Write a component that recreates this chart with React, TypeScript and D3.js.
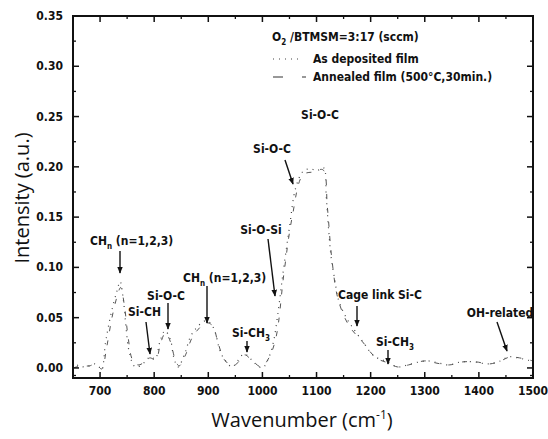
import React from 'react';
import * as d3 from 'd3';

// wavenumber (cm-1) / intensity
const depositedX = [650, 660, 670, 680, 690, 698, 703, 710, 715, 722, 731, 737, 743, 748, 753, 759, 765, 774, 783, 793, 802, 811, 820, 830, 836, 844, 857, 867, 880, 895, 905, 913, 920, 928, 944, 954, 966, 975, 985, 1000, 1010, 1020, 1030, 1037, 1050, 1062, 1076, 1090, 1100, 1113, 1118, 1122, 1127, 1133, 1141, 1155, 1167, 1187, 1206, 1231, 1250, 1268, 1290, 1306, 1325, 1343, 1367, 1391, 1417, 1440, 1454, 1472, 1496];
const depositedY = [-0.002, 0.003, 0.001, 0.002, 0.004, 0.001, -0.002, 0.025, 0.040, 0.058, 0.076, 0.086, 0.068, 0.040, 0.018, 0.006, 0.001, 0.002, 0.006, 0.011, 0.009, 0.027, 0.037, 0.028, 0.011, 0.001, 0.015, 0.031, 0.041, 0.047, 0.044, 0.035, 0.020, 0.010, 0.001, 0.007, 0.014, 0.011, 0.005, 0.000, 0.008, 0.025, 0.060, 0.090, 0.140, 0.180, 0.196, 0.198, 0.196, 0.199, 0.170, 0.140, 0.110, 0.090, 0.067, 0.050, 0.040, 0.025, 0.012, 0.006, 0.001, 0.003, 0.006, 0.007, 0.005, 0.003, 0.006, 0.006, 0.004, 0.007, 0.011, 0.010, 0.007];

const annealedX = [650, 665, 680, 692, 703, 712, 722, 732, 738, 745, 752, 760, 770, 780, 792, 803, 812, 821, 830, 838, 846, 858, 870, 884, 896, 908, 918, 930, 945, 956, 967, 980, 998, 1012, 1025, 1040, 1055, 1075, 1095, 1112, 1120, 1128, 1140, 1160, 1185, 1210, 1232, 1250, 1270, 1300, 1320, 1345, 1370, 1395, 1420, 1440, 1458, 1475, 1500];
const annealedY = [0.000, 0.002, 0.002, 0.004, -0.001, 0.020, 0.050, 0.072, 0.080, 0.062, 0.030, 0.008, 0.003, 0.005, 0.010, 0.008, 0.025, 0.035, 0.026, 0.010, 0.002, 0.013, 0.030, 0.040, 0.045, 0.042, 0.025, 0.008, 0.002, 0.006, 0.013, 0.008, 0.001, 0.010, 0.030, 0.095, 0.150, 0.192, 0.195, 0.197, 0.160, 0.110, 0.068, 0.042, 0.026, 0.010, 0.005, 0.001, 0.003, 0.007, 0.005, 0.003, 0.006, 0.006, 0.004, 0.007, 0.011, 0.010, 0.007];

const xTicks = [700, 800, 900, 1000, 1100, 1200, 1300, 1400, 1500];
const xMinor = [650, 750, 850, 950, 1050, 1150, 1250, 1350, 1450];
const yTicks = [0, 0.05, 0.1, 0.15, 0.2, 0.25, 0.3, 0.35];
const yMinor = [-0.0075, 0.025, 0.075, 0.125, 0.175, 0.225, 0.275, 0.325];

const narrow = "'Liberation Sans Narrow', 'DejaVu Sans Condensed', 'Arial Narrow', sans-serif";
const sans = "'Open Sans', 'Noto Sans', sans-serif";

const App = () => {
  const left = 73, right = 533, top = 16, bottom = 378;
  const x = d3.scaleLinear().domain([650, 1500]).range([left, right]);
  const y = d3.scaleLinear().domain([-0.01, 0.35]).range([bottom, top]);

  const curve = d3.line<[number, number]>()
    .x(d => x(d[0])).y(d => y(d[1]))
    .curve(d3.curveCatmullRom.alpha(0.5));
  const depPath = curve(depositedX.map((v, i) => [v, depositedY[i]]));
  const annPath = curve(annealedX.map((v, i) => [v, annealedY[i]]));

  const lbl = { fontFamily: narrow, fontWeight: 700, fontSize: 12, fill: '#111' } as const;

  const arrow = (x1: number, y1: number, x2: number, y2: number) => (
    <line x1={x1} y1={y1} x2={x2} y2={y2} stroke="#111" strokeWidth={1.4} markerEnd="url(#ah)" />
  );

  return (
    <svg width={548} height={439} style={{ position: 'absolute', left: 0, top: 0, background: '#fff' }}>
      <defs>
        <marker id="ah" viewBox="0 0 10 10" refX="9" refY="5" markerWidth="5" markerHeight="6" orient="auto">
          <path d="M0,1 L10,5 L0,9 z" fill="#111" />
        </marker>
      </defs>

      <path d={depPath || ''} fill="none" stroke="#444" strokeWidth={1.2} strokeDasharray="1 5" />
      <path d={annPath || ''} fill="none" stroke="#555" strokeWidth={1} strokeDasharray="5 9" />

      <rect x={left} y={top} width={right - left} height={bottom - top} fill="none" stroke="#111" strokeWidth={2} />

      {xTicks.map(t => (
        <g key={'x' + t}>
          <line x1={x(t)} x2={x(t)} y1={bottom} y2={bottom - 6} stroke="#111" strokeWidth={1.5} />
          <line x1={x(t)} x2={x(t)} y1={top} y2={top + 6} stroke="#111" strokeWidth={1.5} />
          <text x={x(t)} y={395} textAnchor="middle" style={lbl}>{t}</text>
        </g>
      ))}
      {xMinor.map(t => (
        <g key={'xm' + t}>
          <line x1={x(t)} x2={x(t)} y1={bottom} y2={bottom - 3} stroke="#111" strokeWidth={1.3} />
          <line x1={x(t)} x2={x(t)} y1={top} y2={top + 3} stroke="#111" strokeWidth={1.3} />
        </g>
      ))}
      {yTicks.map(t => (
        <g key={'y' + t}>
          <line x1={left} x2={left + 6} y1={y(t)} y2={y(t)} stroke="#111" strokeWidth={1.5} />
          <line x1={right} x2={right - 6} y1={y(t)} y2={y(t)} stroke="#111" strokeWidth={1.5} />
          <text x={63} y={y(t) + 4} textAnchor="end" style={lbl}>{d3.format('.2f')(t)}</text>
        </g>
      ))}
      {yMinor.map(t => (
        <g key={'ym' + t}>
          <line x1={left} x2={left + 3} y1={y(t)} y2={y(t)} stroke="#111" strokeWidth={1.3} />
          <line x1={right} x2={right - 3} y1={y(t)} y2={y(t)} stroke="#111" strokeWidth={1.3} />
        </g>
      ))}

      <text x={302} y={427} textAnchor="middle" style={{ fontFamily: sans, fontSize: 20, fill: '#111' }}>
        Wavenumber (cm<tspan dy={-8} fontSize={12}>-1</tspan><tspan dy={8}>)</tspan>
      </text>
      <text transform="translate(29,198) rotate(-90)" textAnchor="middle" style={{ fontFamily: sans, fontSize: 20, fill: '#111' }}>
        Intensity (a.u.)
      </text>

      {/* legend */}
      <text x={272} y={41} style={lbl}>O<tspan dy={4} fontSize={8}>2</tspan><tspan dy={-4}> /BTMSM=3:17 (sccm)</tspan></text>
      <line x1={273} x2={303} y1={59} y2={59} stroke="#444" strokeWidth={1.2} strokeDasharray="1 5" />
      <text x={313} y={63} style={lbl}>As deposited film</text>
      <line x1={273} x2={306} y1={77} y2={77} stroke="#333" strokeWidth={1.2} strokeDasharray="10 19" />
      <text x={313} y={81} style={lbl}>Annealed film (500°C,30min.)</text>

      {/* annotations */}
      <text x={320} y={119} textAnchor="middle" style={lbl}>Si-O-C</text>
      <text x={272} y={153} textAnchor="middle" style={lbl}>Si-O-C</text>
      {arrow(285, 160, 293, 184)}
      <text x={261} y={234} textAnchor="middle" style={lbl}>Si-O-Si</text>
      {arrow(268, 239, 275, 296)}
      <text x={380} y={299} textAnchor="middle" style={lbl}>Cage link Si-C</text>
      {arrow(357, 306, 357, 326)}
      <text x={376} y={346} style={lbl}>Si-CH<tspan dy={4} fontSize={8}>3</tspan></text>
      {arrow(388, 350, 388, 364)}
      <text x={500} y={317} textAnchor="middle" style={lbl}>OH-related</text>
      {arrow(497, 322, 507, 351)}

      <text x={90} y={245} style={lbl}>CH<tspan dy={4} fontSize={8}>n</tspan><tspan dy={-4}> (n=1,2,3)</tspan></text>
      {arrow(120, 251, 120, 273)}
      <text x={128} y={316} style={lbl}>Si-CH</text>
      {arrow(146, 322, 150, 354)}
      <text x={166} y={300} textAnchor="middle" style={lbl}>Si-O-C</text>
      {arrow(168, 303, 168, 329)}
      <text x={183} y={282} style={lbl}>CH<tspan dy={4} fontSize={8}>n</tspan><tspan dy={-4}> (n=1,2,3)</tspan></text>
      {arrow(207, 286, 207, 323)}
      <text x={232} y={337} style={lbl}>Si-CH<tspan dy={4} fontSize={8}>3</tspan></text>
      {arrow(247, 341, 247, 352)}
    </svg>
  );
};

export default App;
